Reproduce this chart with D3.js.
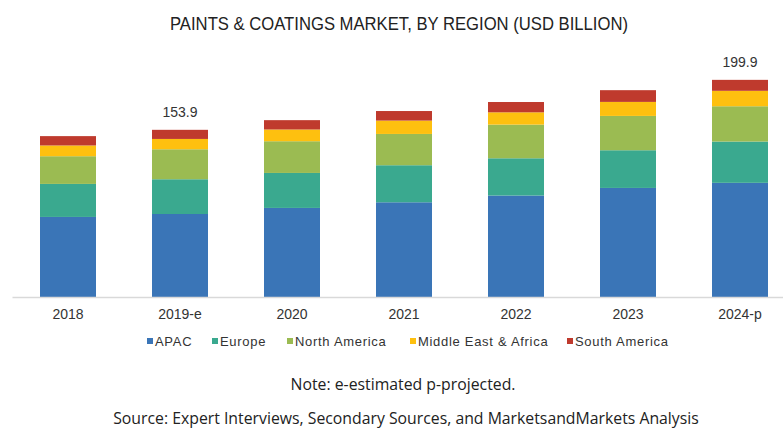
<!DOCTYPE html>
<html>
<head>
<meta charset="utf-8">
<script src="https://cdn.jsdelivr.net/npm/d3@7"></script>
<style>
  body { margin: 0; background: #fff; }
  svg { display: block; }
</style>
</head>
<body>
<div id="chart"></div>
<script>
var svgWidth = 783;
var svgHeight = 428;

// data (USD billion)
var years = ["2018", "2019-e", "2020", "2021", "2022", "2023", "2024-p"];
var regions = ["APAC", "Europe", "North America", "Middle East & Africa", "South America"];
var apac = [73.7, 76.4, 82.0, 87.2, 93.4, 100.4, 105.1];
var europe = [30.4, 32.0, 32.2, 34.1, 34.3, 34.7, 38.0];
var northAmerica = [25.5, 27.6, 29.2, 28.8, 31.0, 31.6, 32.5];
var mea = [9.9, 9.5, 10.8, 12.3, 11.3, 12.9, 14.2];
var southAmerica = [8.6, 8.4, 8.6, 8.8, 9.5, 10.8, 10.1];
var totalLabels = ["", "153.9", "", "", "", "", "199.9"];

var colors = ["#3a75b7", "#3aa98f", "#9bbb52", "#fec00f", "#bf3a2d"];

var margin = { top: 20, right: 0, bottom: 131, left: 12 };
var width = svgWidth - margin.left - margin.right;
var height = svgHeight - margin.top - margin.bottom;

var svg = d3.select("#chart")
  .append("svg")
  .attr("width", svgWidth)
  .attr("height", svgHeight);

var chartGroup = svg.append("g")
  .attr("transform", `translate(${margin.left}, ${margin.top})`);

// build rows for the stack
var rows = years.map(function (y, i) {
  return {
    year: y,
    "APAC": apac[i],
    "Europe": europe[i],
    "North America": northAmerica[i],
    "Middle East & Africa": mea[i],
    "South America": southAmerica[i]
  };
});

var stack = d3.stack().keys(regions);
var series = stack(rows);

var xScale = d3.scaleBand()
  .domain(years)
  .range([0, 784])
  .paddingInner(0.5)
  .paddingOuter(0.25);

var yScale = d3.scaleLinear()
  .domain([0, 255])
  .range([height, 0]);

// bars
chartGroup.selectAll(".layer")
  .data(series)
  .enter()
  .append("g")
  .attr("class", "layer")
  .attr("fill", (d, i) => colors[i])
  .selectAll("rect")
  .data(d => d)
  .enter()
  .append("rect")
  .attr("x", d => xScale(d.data.year))
  .attr("y", d => yScale(d[1]))
  .attr("height", d => yScale(d[0]) - yScale(d[1]))
  .attr("width", xScale.bandwidth());

// axis
var xaxis = d3.axisBottom(xScale).tickSize(0).tickPadding(12);
var axisG = chartGroup.append("g")
  .attr("transform", `translate(0, ${height})`)
  .call(xaxis);
axisG.select(".domain").attr("stroke", "#d9d9d9").attr("stroke-width", 1.5);
axisG.selectAll("text")
  .style("font", "14px 'Liberation Sans', Arial, sans-serif")
  .style("fill", "#333");

// total labels
chartGroup.selectAll(".total")
  .data(rows)
  .enter()
  .append("text")
  .attr("class", "total")
  .attr("x", d => xScale(d.year) + xScale.bandwidth() / 2)
  .attr("y", (d, i) => yScale(series[4][i][1]) - 13)
  .attr("text-anchor", "middle")
  .style("font", "14px 'Liberation Sans', Arial, sans-serif")
  .style("fill", "#333")
  .text((d, i) => totalLabels[i]);

// title (condensed look)
svg.append("text")
  .attr("x", 399)
  .attr("y", 30)
  .attr("text-anchor", "middle")
  .attr("textLength", 458)
  .attr("lengthAdjust", "spacingAndGlyphs")
  .style("font", "19px 'Liberation Sans', sans-serif")
  .style("fill", "#222")
  .text("PAINTS & COATINGS MARKET, BY REGION (USD BILLION)");

// legend
var legendX = [147, 212, 287, 410, 567];
var legend = svg.selectAll(".legend")
  .data(regions)
  .enter()
  .append("g")
  .attr("class", "legend")
  .attr("transform", (d, i) => `translate(${legendX[i]}, 341)`);

legend.append("rect")
  .attr("x", 0)
  .attr("y", -3)
  .attr("width", 6)
  .attr("height", 6)
  .attr("fill", (d, i) => colors[i]);

legend.append("text")
  .attr("x", 8)
  .attr("y", 4.5)
  .style("font", "13px 'Liberation Sans', Arial, sans-serif")
  .style("letter-spacing", "0.7px")
  .style("fill", "#333")
  .text(d => d);

// notes
svg.append("text")
  .attr("x", 403)
  .attr("y", 390)
  .attr("text-anchor", "middle")
  .style("font", "15.8px 'Open Sans', sans-serif")
  .style("fill", "#222")
  .text("Note: e-estimated p-projected.");

svg.append("text")
  .attr("x", 406)
  .attr("y", 424)
  .attr("text-anchor", "middle")
  .style("font", "15.8px 'Open Sans', sans-serif")
  .style("fill", "#222")
  .text("Source: Expert Interviews, Secondary Sources, and MarketsandMarkets Analysis");
</script>
</body>
</html>
